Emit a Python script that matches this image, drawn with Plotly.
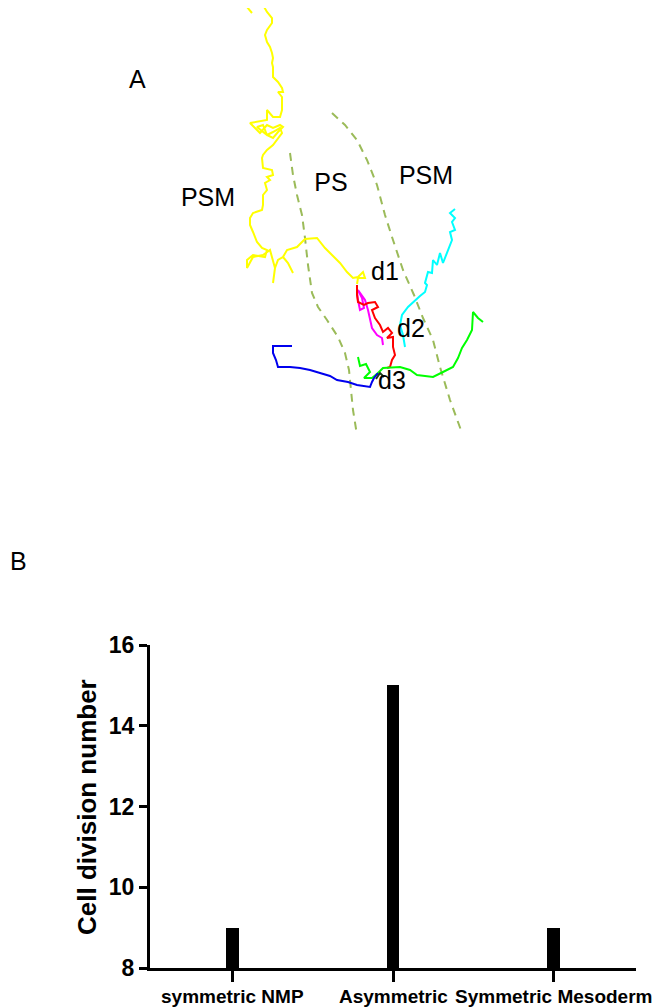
import plotly.graph_objects as go

# page geometry: browser body adds an 8px margin around the figure
PAGE_W, PAGE_H = 662, 1007
OFF = 8
FW, FH = PAGE_W - OFF, PAGE_H - OFF


def px_x(p):
    return (p - OFF) / FW


def px_y(p):
    return 1 - (p - OFF) / FH


# ---------------- Panel A: cell tracks (image coordinates, px) ----------------
yellow_x = [252,247,253,262,263,267,272,272,267,265,267,270,272,273,272,273,273,278,282,283,278,282,282,280,273,270,267,267,250,255,260,267,273,280,283,278,273,267,263,257,267,273,280,282,273,267,263,262,263,272,273,267,270,265,267,263,263,262,253,250,250,253,257,262,267,265,253,247,247,253,263,270,273,275,273,275,278,283,288,293,288,283,287,297,305,317,320,325,332,340,347,353,358,363,365,358,357]
yellow_y = [13,7,2,1,5,12,18,23,30,35,42,47,53,58,63,67,77,82,88,92,92,97,110,117,117,113,110,120,123,128,133,125,128,125,127,132,138,135,125,127,135,132,128,133,145,150,155,158,168,170,175,177,180,183,190,195,205,210,213,218,225,232,242,248,250,257,255,260,268,257,255,250,262,268,283,268,260,257,263,273,263,257,250,247,239,238,242,248,255,263,272,278,277,272,278,278,284]

magenta_x = [357,357,358,360,364,362,358,365,368,370,372,377,382,383]
magenta_y = [285,292,300,310,308,298,290,300,310,320,328,335,338,345]

red_x = [357,357,358,364,368,375,378,372,375,380,383,388,392,387,393,393,395,392,390,387]
red_y = [285,295,302,305,303,302,307,310,318,325,332,328,333,338,337,347,355,360,367,368]

cyan_x = [405,403,400,402,408,415,420,425,427,425,428,432,433,437,440,443,448,452,450,455,452,455,450,455]
cyan_y = [347,335,325,315,307,300,296,292,285,283,272,273,260,265,253,263,250,240,232,230,222,218,213,209]

green_x = [358,360,366,370,364,372,378,383,400,410,417,433,443,453,458,462,467,472,473,478,483]
green_y = [357,366,364,372,378,378,373,368,367,370,375,377,372,367,358,348,340,330,312,318,322]

blue_x = [292,273,273,276,278,290,300,310,320,330,337,348,357,365,370,372,374,378]
blue_y = [346,346,353,360,367,367,368,370,373,376,380,382,385,386,387,382,378,373]

dark_x = [376,380,384]
dark_y = [379,373,377]

# dashed boundaries between tissues
bound_left_x = [290,293,297,302,305,308,312,318,327,338,345,349,351,353,357]
bound_left_y = [153,175,195,215,238,265,293,307,320,337,353,370,390,410,435]
bound_right_x = [332,345,357,367,377,385,393,403,414,423,433,440,450,462]
bound_right_y = [113,125,140,160,185,215,240,270,295,318,340,367,400,433]

region_labels = ["PSM", "PS", "PSM", "d1", "d2", "d3"]
region_label_x = [208, 331, 426, 385, 411, 392]
region_label_y = [200, 185, 178, 274, 331, 383]

# ---------------- Panel B: bar chart ----------------
categories = ["symmetric NMP", "Asymmetric", "Symmetric Mesoderm"]
division_counts = [9, 15, 9]
y_ticks = [8, 10, 12, 14, 16]

fig = go.Figure()

tracks = [
    (yellow_x, yellow_y, "#ffff00"),
    (magenta_x, magenta_y, "#ff00ff"),
    (red_x, red_y, "#ff0000"),
    (cyan_x, cyan_y, "#00ffff"),
    (green_x, green_y, "#00ff00"),
    (blue_x, blue_y, "#0000ee"),
    (dark_x, dark_y, "#1a3a1a"),
]
for bx, by in [(bound_left_x, bound_left_y), (bound_right_x, bound_right_y)]:
    fig.add_trace(go.Scatter(x=bx, y=by, mode="lines", xaxis="x", yaxis="y",
                             line=dict(color="#9bbb59", width=2, dash="8px,6px"),
                             showlegend=False, hoverinfo="skip"))
for tx, ty, col in tracks:
    fig.add_trace(go.Scatter(x=tx, y=ty, mode="lines", xaxis="x", yaxis="y",
                             line=dict(color=col, width=2),
                             showlegend=False, hoverinfo="skip"))
fig.add_trace(go.Scatter(x=region_label_x, y=region_label_y, mode="text",
                         text=region_labels, xaxis="x", yaxis="y",
                         textfont=dict(family="Liberation Sans, Arial", size=25, color="black"),
                         showlegend=False, hoverinfo="skip"))

cat_pos = list(range(len(categories)))
fig.add_trace(go.Bar(x=cat_pos, y=division_counts, xaxis="x2", yaxis="y2",
                     width=0.081, marker=dict(color="black", line=dict(width=0)),
                     showlegend=False))

x_left, x_right = 150, 636
y_top, y_bot = 645, 968

annotations = [
    dict(text="Cell division number", textangle=-90, x=px_x(87), y=px_y(807),
         xref="paper", yref="paper", showarrow=False, xanchor="center", yanchor="middle",
         font=dict(family="Liberation Sans, Arial", size=26, color="black", weight="bold")),
    dict(text="A", x=px_x(137), y=px_y(79), xref="paper", yref="paper", showarrow=False,
         xanchor="center", yanchor="middle",
         font=dict(family="Liberation Sans, Arial", size=25, color="black")),
    dict(text="B", x=0, y=px_y(561), xref="paper", yref="paper", showarrow=False,
         xanchor="left", yanchor="middle",
         font=dict(family="Liberation Sans, Arial", size=25, color="black")),
]
for i, c in zip(cat_pos, categories):
    annotations.append(dict(text=c, x=i, xref="x2", y=px_y(985), yref="paper",
                            showarrow=False, xanchor="center", yanchor="top",
                            borderpad=0,
                            font=dict(family="Liberation Sans, Arial", size=19,
                                      color="black", weight="bold")))

fig.update_layout(
    template="none",
    width=FW, height=FH,
    margin=dict(l=0, r=0, t=0, b=0, pad=0, autoexpand=False),
    paper_bgcolor="white", plot_bgcolor="rgba(0,0,0,0)",
    xaxis=dict(domain=[0, 1], range=[OFF, OFF + FW], visible=False, fixedrange=True, automargin=False),
    yaxis=dict(domain=[0, 1], range=[OFF + FH, OFF], visible=False, fixedrange=True, automargin=False),
    xaxis2=dict(domain=[px_x(x_left), px_x(x_right)], range=[-0.516, 2.516], anchor="y2",
                automargin=False,
                tickmode="array", tickvals=cat_pos, showticklabels=False,
                ticks="outside", ticklen=11, tickwidth=3, tickcolor="black",
                showline=True, linewidth=3, linecolor="black", showgrid=False, zeroline=False),
    yaxis2=dict(domain=[px_y(y_bot), px_y(y_top)], range=[8, 16], anchor="x2",
                automargin=False,
                tickmode="array", tickvals=y_ticks,
                ticks="outside", ticklen=8, tickwidth=3, tickcolor="black",
                showline=True, linewidth=3, linecolor="black", showgrid=False, zeroline=False,
                tickfont=dict(family="Liberation Sans, Arial", size=23, color="black", weight="bold")),
    bargap=0,
    annotations=annotations,
)

fig.write_html("out.html")
